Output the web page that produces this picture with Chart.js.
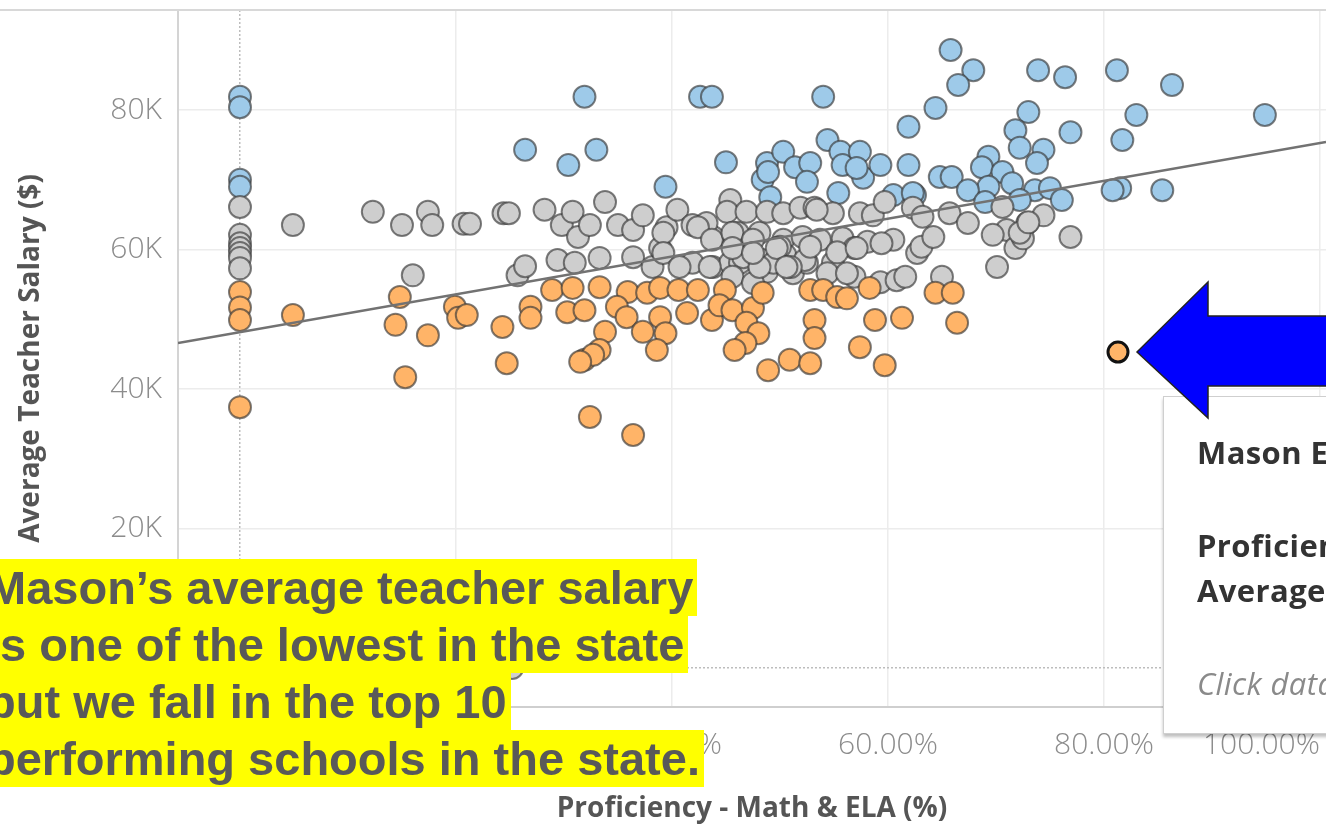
<!DOCTYPE html>
<html><head><meta charset="utf-8">
<script src="https://cdn.jsdelivr.net/npm/chart.js@4.4.1/dist/chart.umd.min.js"></script>
<style>
html,body{margin:0;padding:0;background:#fff;overflow:hidden;}
#wrap{position:relative;width:1326px;height:826px;overflow:hidden;background:#fff;}
#c{position:absolute;left:0;top:0;}
#topline{position:absolute;left:0;top:9px;width:1326px;height:2px;background:#d8d8d8;z-index:1;}
#note{position:absolute;left:-13px;top:559px;font-family:"Liberation Sans",Arial,sans-serif;font-weight:bold;font-size:47px;color:#595959;z-index:3;}
#note div{height:57px;line-height:57px;white-space:nowrap;}
#note span{background:#ffff00;display:inline-block;height:57px;padding-right:4px;}
#tip{position:absolute;left:1163px;top:396px;width:220px;height:336px;background:#fff;border:1px solid #cfcfcf;box-shadow:0 3px 3px rgba(0,0,0,0.25);z-index:2;font-family:"Open Sans",sans-serif;color:#333;}
#tip div{position:absolute;left:33px;white-space:nowrap;font-size:31px;letter-spacing:0.4px;line-height:34px;}
#tip .b{font-weight:700;}
#tip .i{font-style:italic;color:#8a8a8a;font-weight:400;}
#arrow{position:absolute;left:1130px;top:275px;width:200px;height:150px;z-index:4;}
</style></head>
<body>
<div id="wrap">
<canvas id="c" width="1326" height="826"></canvas>
<div id="topline"></div>
<div id="tip">
<div class="b" style="top:38px">Mason Elementary</div>
<div class="b" style="top:131px">Proficiency - Math &amp; ELA (%):</div>
<div class="b" style="top:176px">Average Teacher Salary ($):</div>
<div class="i" style="top:269px">Click data point for details</div>
</div>
<svg id="arrow" viewBox="0 0 200 150"><polygon points="7,77 78,7 78,41 205,41 205,111 78,111 78,143" fill="#0000ff" stroke="#222" stroke-width="1.5"/></svg>
<div id="note">
<div><span>Mason’s average teacher salary</span></div>
<div><span>is one of the lowest in the state</span></div>
<div><span>but we fall in the top 10</span></div>
<div><span>performing schools in the state.</span></div>
</div>
</div>
<script>
// Axis ranges (proficiency in %, salary in thousands of dollars)
const xMin = -5.74, xMax = 100.56;
const yMin = -5.59, yMax = 94.34;
const xTicks = [0, 20, 40, 60, 80, 100];
const yTicks = [0, 20, 40, 60, 80];

// Blue (higher salary) schools
const blueX = [0,0,0,0,26.4,30.4,31.9,33.0,39.4,42.6,43.7,54.0,45.0,48.8,48.4,49.1,48.9,50.3,51.4,52.8,52.5,54.4,55.6,55.8,55.4,57.4,57.7,59.3,61.9,60.5,62.5,61.9,64.4,64.8,65.9,65.8,67.9,66.5,73.9,76.4,81.2,86.3,94.9,83.0,76.9,81.7,73.0,71.8,72.2,74.4,73.8,69.3,68.7,70.6,71.5,69.3,67.4,73.6,75.0,76.1,72.2,69.0,81.5,80.8,85.4,62.3,57.1];
const blueY = [81.9,80.4,70.0,69.0,74.3,72.1,81.9,74.3,69.0,81.9,81.9,81.9,72.5,72.4,70.0,67.5,71.1,74.0,71.8,72.4,69.7,75.7,74.0,72.1,68.1,74.0,70.3,72.1,72.1,67.8,67.8,77.6,80.3,70.4,70.4,88.6,85.7,83.6,85.7,84.7,85.7,83.6,79.3,79.3,76.8,75.7,79.7,77.1,74.6,74.3,72.4,73.3,71.8,71.1,69.5,69.0,68.5,68.5,68.8,67.1,67.1,66.8,68.8,68.5,68.5,68.1,71.7];

// Gray (middle salary) schools
const grayX = [0,0,0,0,0,0,0,4.9,12.3,15.0,17.4,17.8,16.0,20.7,21.3,24.4,24.9,25.7,26.4,28.2,29.4,29.8,30.8,31.3,32.4,31.0,33.3,33.8,35.0,36.4,36.4,37.3,38.2,38.9,39.5,40.5,41.9,41.9,43.8,43.8,45.4,45.1,45.4,43.2,46.1,46.3,46.9,48.1,48.4,48.8,48.8,50.3,50.3,50.5,51.2,51.9,52.1,52.5,53.2,53.7,54.9,54.9,55.8,56.9,56.9,57.4,58.1,58.6,59.3,59.7,60.5,60.8,62.3,62.7,63.1,64.2,65.0,65.7,67.4,63.2,70.6,71.0,69.7,72.9,74.4,71.8,72.5,76.9,70.1,61.6,72.2,73.0,52.3,39.2,39.2,40.7,42.4,43.7,43.5,45.6,47.5,50.0,46.6,49.4,51.0,45.6,47.5,53.4,48.1,25.2,45.6,47.5,49.7,52.8,55.3,57.1,59.4,50.6,54.4,56.2];
const grayY = [66.1,62.1,60.9,60.2,59.5,58.8,57.3,63.5,65.4,63.5,65.4,63.5,56.3,63.7,63.7,65.2,65.2,56.3,57.6,65.7,58.5,63.5,65.4,61.8,63.5,58.1,58.8,66.8,63.5,62.8,58.9,64.9,57.5,60.2,63.2,65.7,63.5,58.1,61.8,57.5,67.1,65.4,58.1,63.8,62.4,58.1,65.4,62.4,58.5,65.4,56.8,65.2,61.4,59.2,56.6,66.0,61.8,58.1,66.0,61.4,65.2,58.1,61.6,56.1,60.2,65.2,61.1,64.9,55.3,66.8,61.4,55.6,66.0,59.5,60.4,61.8,56.1,65.2,63.8,64.7,66.1,62.8,62.1,63.8,64.9,60.2,61.6,61.8,57.5,56.1,62.4,63.9,58.5,62.4,59.5,57.5,63.2,61.4,57.5,62.4,61.4,60.4,58.9,58.1,57.5,56.1,55.2,65.7,57.5,0,60.2,59.5,60.2,60.4,59.6,60.2,60.9,57.5,56.6,56.6];

// Orange (lower salary) schools
const orangeX = [0,0,0,0,4.9,14.8,14.4,15.3,17.4,19.9,20.2,21.0,24.3,24.7,26.9,26.9,28.9,30.8,33.3,30.3,31.9,33.8,33.3,31.9,32.7,31.5,32.4,36.4,35.9,34.9,35.8,37.7,38.9,38.9,37.3,39.4,38.6,40.6,42.4,41.4,43.7,44.9,44.4,45.6,47.5,48.4,46.9,48.0,46.8,45.8,48.9,50.9,52.8,53.2,53.2,52.8,54.0,55.3,56.2,58.3,58.8,61.3,59.7,57.4,64.4,66.0,66.4];
const orangeY = [53.9,51.7,49.9,37.4,50.6,53.2,49.2,41.7,47.7,51.8,50.2,50.6,48.9,43.7,51.8,50.2,54.2,54.5,54.6,51.0,51.3,48.2,45.6,44.2,44.9,43.9,36.0,33.4,53.9,51.8,50.3,53.8,54.5,50.3,48.2,48.0,45.6,54.2,54.2,50.9,49.9,54.2,52.0,51.3,51.6,53.8,49.5,48.0,46.6,45.6,42.7,44.2,43.7,49.9,47.3,54.2,54.2,53.2,53.0,54.5,49.9,50.2,43.4,46.0,53.8,53.8,49.5];

// Highlighted school (Mason)
const masonX = [81.3];
const masonY = [45.3];

// Trend line end points
const trendX = [-5.74, 100.56];
const trendY = [46.6, 75.4];

const pts = (xs, ys) => xs.map((x, i) => ({x: x, y: ys[i]}));
const edge = 'rgba(55,55,55,0.65)';
const dotStyle = (fill) => ({
  type: 'scatter', pointRadius: 11, pointHoverRadius: 11,
  backgroundColor: fill, borderColor: edge, borderWidth: 2
});

const tickFont = {family: '"Open Sans", sans-serif', size: 30, weight: 300};
const titleFont = {family: '"Open Sans", sans-serif', size: 28, weight: 700};
const zeroDash = (ctx) => (ctx.tick && ctx.tick.value === 0) ? [2, 2] : [];
const gridColor = (ctx) => (ctx.tick && ctx.tick.value === 0) ? '#bdbdbd' : '#ececec';

new Chart(document.getElementById('c'), {
  data: {
    datasets: [
      {type: 'line', data: pts(trendX, trendY), borderColor: '#727272', borderWidth: 2.5, pointRadius: 0, fill: false, order: 0},
      Object.assign(dotStyle('#ffb468'), {data: pts(masonX, masonY), borderColor: '#111', borderWidth: 3, pointRadius: 10, order: 1}),
      Object.assign(dotStyle('#ffb468'), {data: pts(orangeX, orangeY), order: 2}),
      Object.assign(dotStyle('#cecece'), {data: pts(grayX, grayY), order: 3}),
      Object.assign(dotStyle('#9ecae9'), {data: pts(blueX, blueY), order: 4})
    ]
  },
  options: {
    responsive: false, animation: false, devicePixelRatio: 1,
    layout: {autoPadding: false, padding: {top: 10, right: 0, left: 0, bottom: 0}},
    plugins: {legend: {display: false}, tooltip: {enabled: false}},
    scales: {
      x: {
        type: 'linear', min: xMin, max: xMax,
        afterBuildTicks: (s) => { s.ticks = xTicks.map(v => ({value: v})); },
        afterFit: (s) => { s.height = 119; s.paddingLeft = 0; s.paddingRight = 0; },
        ticks: {font: tickFont, color: '#8c8c8c', padding: 20, align: 'inner', maxRotation: 0,
          callback: (v) => v.toFixed(2) + '%'},
        grid: {color: gridColor, lineWidth: 1.5, drawTicks: false},
        border: {color: '#cfcfcf', width: 2, dash: zeroDash},
        title: {display: true, text: 'Proficiency - Math & ELA (%)', font: titleFont, color: '#555', padding: {top: 1, bottom: 0}}
      },
      y: {
        type: 'linear', min: yMin, max: yMax,
        afterBuildTicks: (s) => { s.ticks = yTicks.map(v => ({value: v})); },
        afterFit: (s) => { s.width = 178; s.paddingTop = 0; s.paddingBottom = 0; },
        ticks: {font: tickFont, color: '#8c8c8c', padding: 16,
          callback: (v) => v + 'K'},
        grid: {color: gridColor, lineWidth: 1.5, drawTicks: false},
        border: {color: '#d4d4d4', width: 2, dash: zeroDash},
        title: {display: true, text: 'Average Teacher Salary ($)', font: titleFont, color: '#555', padding: {top: 14, bottom: 0}}
      }
    }
  }
});
</script>
</body></html>
